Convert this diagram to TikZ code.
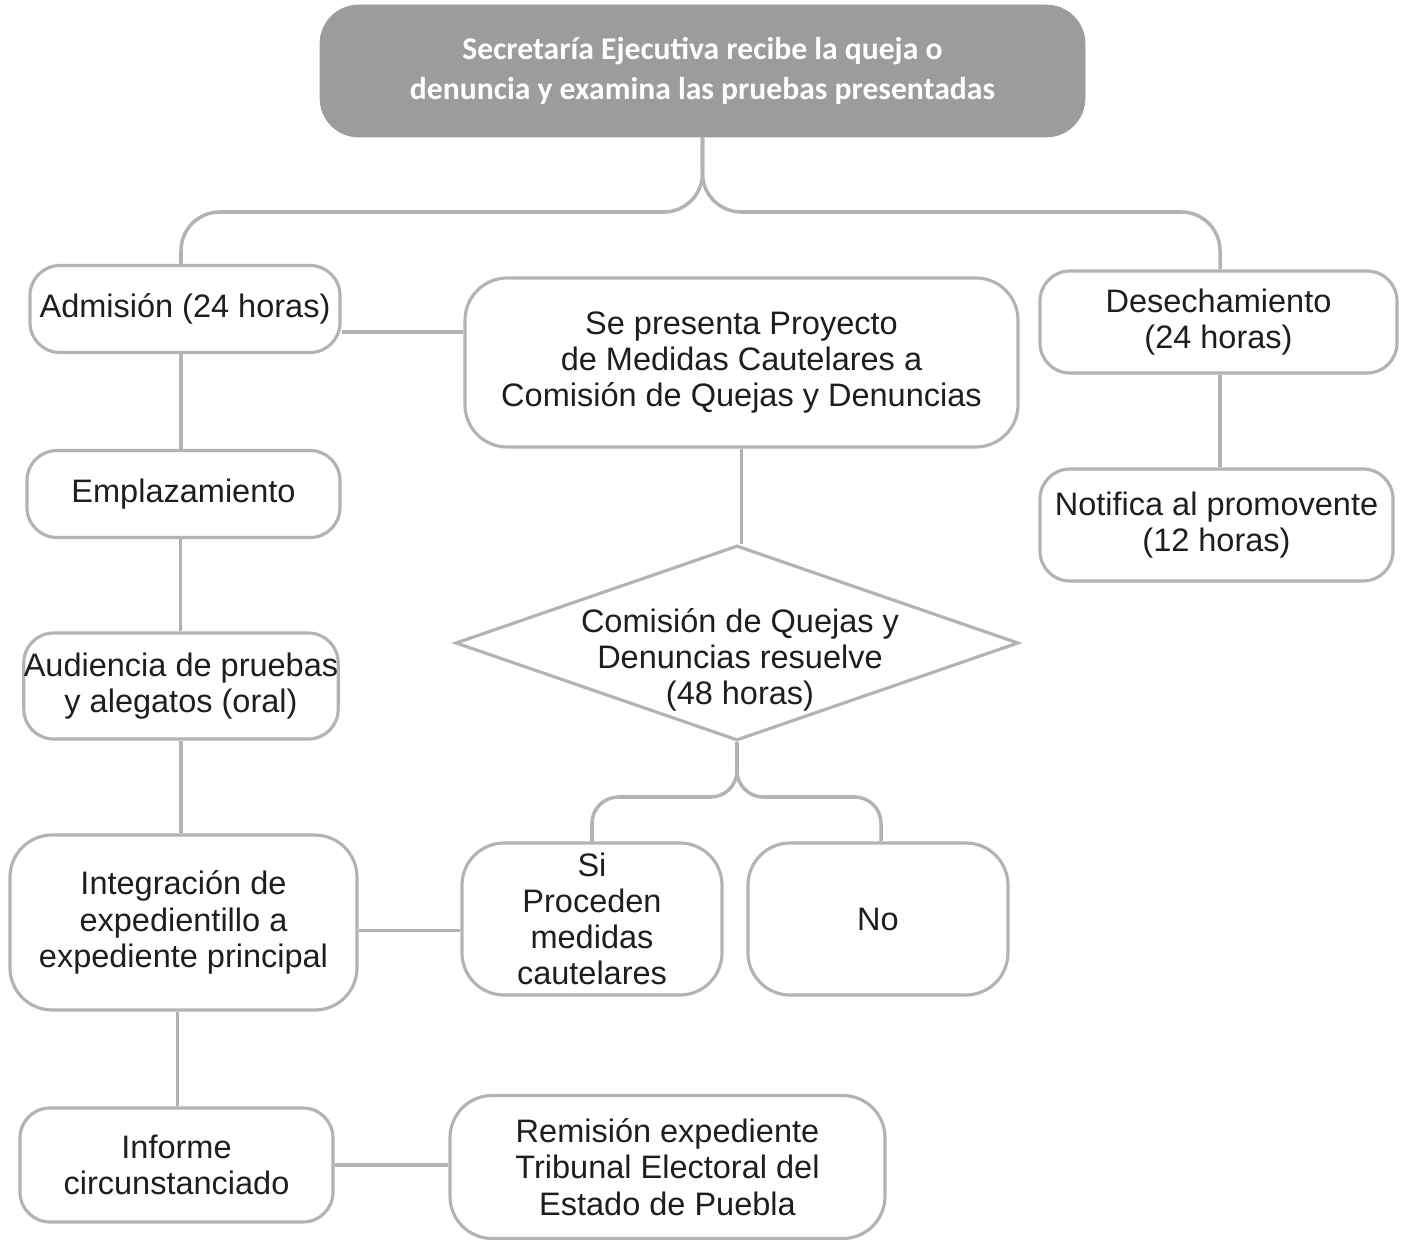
\documentclass[tikz,border=0pt]{standalone}
\usepackage{fontspec}
\setmainfont{Liberation Sans}
\newfontfamily\topfont{Carlito}
\usetikzlibrary{shapes.geometric,calc}
\definecolor{lgray}{HTML}{B3B3B3}
\definecolor{topfill}{HTML}{9C9C9C}
\definecolor{txt}{HTML}{1E1E1E}
\tikzset{
  bx/.style 2 args={minimum width=#1*0.02cm, minimum height=#2*0.02cm},
  box/.style={draw=lgray, line width=1.8pt, rounded corners=17pt, inner sep=0pt,
    align=center, text=txt, font=\fontsize{18.5}{20.6}\selectfont},
  bigbox/.style={box, rounded corners=24pt},
  topbox/.style={fill=topfill, draw=topfill, rounded corners=22pt, inner sep=0pt,
    align=center, text=white, font=\topfont\bfseries\fontsize{18}{22.8}\selectfont},
  conn/.style={draw=lgray, line width=2pt},
  diabox/.style={draw=lgray, line width=1.8pt, diamond, inner sep=0pt},
  plain/.style={align=center, text=txt, inner sep=0pt, font=\fontsize{18.5}{20.6}\selectfont}
}
\begin{document}
\begin{tikzpicture}[x=0.02cm, y=-0.02cm]
\useasboundingbox (0,0) rectangle (1404,1240);

\node[topbox, bx={765}{132}] (top) at (702.5,71) {Secretaría Ejecutiva recibe la queja o\\denuncia y examina las pruebas presentadas};

\node[box, bx={310}{87}] (adm) at (185,309) {Admisión (24 horas)};
\node[bigbox, bx={553}{169}] (proy) at (741.5,362.5) {Se presenta Proyecto\\de Medidas Cautelares a\\Comisión de Quejas y Denuncias};
\node[box, bx={357}{102}] (des) at (1218.5,322) {Desechamiento\\(24 horas)};
\node[box, bx={353}{112}] (notif) at (1216.5,525) {Notifica al promovente\\(12 horas)};

\node[box, bx={313}{87}] (empl) at (183.5,494) {Emplazamiento};
\node[box, bx={312}{106}] (aud) at (181,686) {Audiencia de pruebas\\y alegatos (oral)};
\node[bigbox, bx={347}{175}] (integ) at (183.5,922.5) {Integración de\\expedientillo a\\expediente principal};
\node[box, bx={313}{114}] (inf) at (176.5,1165) {Informe\\circunstanciado};
\node[bigbox, bx={435}{143}] (rem) at (667.5,1167) {Remisión expediente\\Tribunal Electoral del\\Estado de Puebla};

\node[diabox, bx={563}{195}] (dia) at (737,643) {};
\node[plain] (diat) at (740,660) {Comisión de Quejas y\\Denuncias resuelve\\(48 horas)};

\node[bigbox, bx={260}{152}] (si) at (592,919) {Si\\Proceden\\medidas\\cautelares};
\node[bigbox, bx={260}{152}] (no) at (878,919) {No};

% top brace
\draw[conn, rounded corners=22pt] (top.south) -- (top.south |- 0,212) -- ([xshift=-4*0.02cm]adm.north |- 0,212) -- ([xshift=-4*0.02cm]adm.north);
\draw[conn, rounded corners=22pt] (top.south) -- (top.south |- 0,212) -- ([xshift=1.5*0.02cm]des.north |- 0,212) -- ([xshift=1.5*0.02cm]des.north);

% left column
\draw[conn] ([xshift=-4*0.02cm]adm.south) -- ([xshift=-4*0.02cm]adm.south |- empl.north);
\draw[conn] ([xshift=-3*0.02cm]empl.south) -- ([xshift=-3*0.02cm]empl.south |- aud.north);
\draw[conn] (aud.south) -- (aud.south |- integ.north);
\draw[conn] ([xshift=-6*0.02cm]integ.south) -- ([xshift=-6*0.02cm]integ.south |- inf.north);

% horizontals
\draw[conn] ($(adm.east)+(0,23)$) -- ($(proy.west |- adm.east)+(0,23)$);
\draw[conn] ($(integ.east)+(0,8)$) -- ($(si.west |- integ.east)+(0,8)$);
\draw[conn] (inf.east) -- (rem.west |- inf.east);

% right column
\draw[conn] ([xshift=1.5*0.02cm]des.south) -- ([xshift=1.5*0.02cm]des.south |- notif.north);

% middle
\draw[conn] (proy.south) -- (proy.south |- dia.north);
\draw[conn, rounded corners=15pt] (dia.south) -- (dia.south |- 0,797) -- (si.north |- 0,797) -- (si.north);
\draw[conn, rounded corners=15pt] (dia.south) -- (dia.south |- 0,797) -- ([xshift=3*0.02cm]no.north |- 0,797) -- ([xshift=3*0.02cm]no.north);
\end{tikzpicture}
\end{document}
